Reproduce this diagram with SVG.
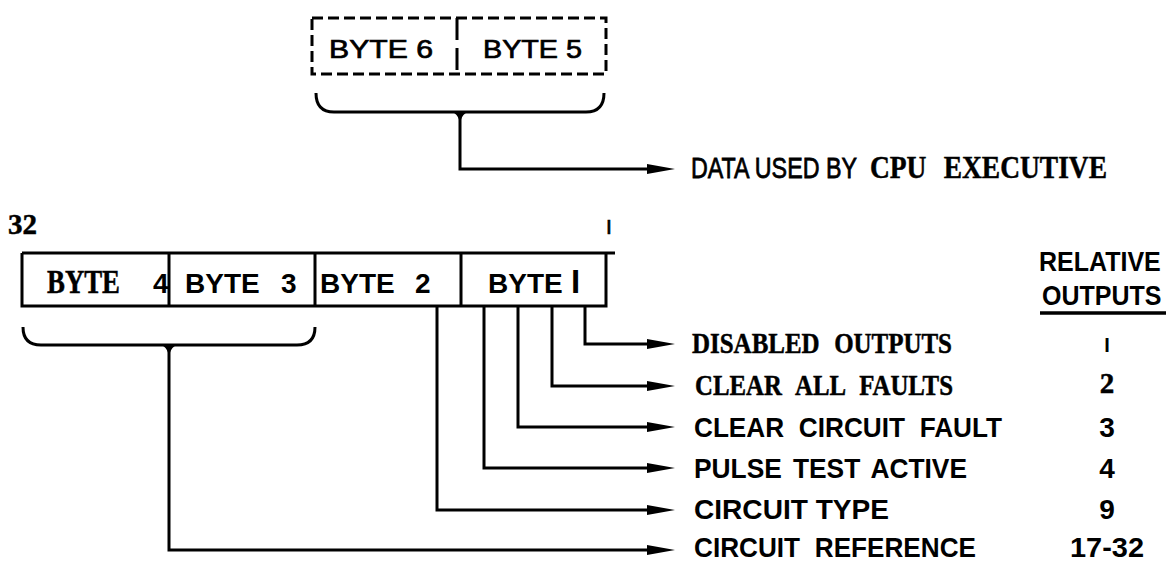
<svg xmlns="http://www.w3.org/2000/svg" width="1166" height="563" viewBox="0 0 1166 563">
<defs>
<marker id="ah" markerUnits="userSpaceOnUse" markerWidth="30" markerHeight="12" refX="15" refY="6" orient="auto">
<path d="M0,1 L28,6 L0,11 Z" fill="#000"/>
</marker>
<style>
.ln{fill:none;stroke:#000;stroke-width:3}
.dash{fill:none;stroke:#000;stroke-width:3;stroke-dasharray:11 5}
.fill{fill:#000;stroke:none}
.sb{font-family:"Liberation Sans",Arial,sans-serif;font-weight:bold;font-size:28px;fill:#000}
.sn{font-family:"Liberation Sans",Arial,sans-serif;font-weight:normal;font-size:28px;fill:#000;stroke:#000;stroke-width:0.7}
.rb{font-family:"Liberation Serif","Times New Roman",serif;font-weight:bold;font-size:30px;fill:#000;stroke:#000;stroke-width:0.5}
</style>
</defs>
<rect width="1166" height="563" fill="#fff"/>

<g id="bytes-6-5">
<path class="dash" d="M312,18 H606 V74 H312 Z"/>
<path class="dash" d="M457,18 V74" style="stroke-dasharray:22 8"/>
<text class="sn" x="329" y="58" style="font-size:25px" textLength="104" lengthAdjust="spacingAndGlyphs">BYTE 6</text>
<text class="sn" x="483" y="58" style="font-size:25px" textLength="99" lengthAdjust="spacingAndGlyphs">BYTE 5</text>
</g>

<g id="bytes-4-1">
<path class="ln" d="M22,253 H615 M22,253 V306 H606 V253 M169,253 V306 M315,253 V306 M461,253 V306"/>
<text y="293"><tspan class="rb" x="47" style="font-size:33px" textLength="73" lengthAdjust="spacingAndGlyphs">BYTE</tspan> <tspan class="sb" x="153">4</tspan></text>
<text class="sb" y="293"><tspan x="185">BYTE</tspan> <tspan x="281">3</tspan></text>
<text class="sb" y="293"><tspan x="320">BYTE</tspan> <tspan x="415">2</tspan></text>
<text class="sb" y="293"><tspan x="488">BYTE</tspan> <tspan x="571" style="font-size:33px">I</tspan></text>
</g>

<g id="bit-labels">
<text class="rb" x="8" y="234" style="font-size:29px">32</text>
<text class="sn" x="606" y="234" style="font-size:21px">I</text>
</g>

<g id="header">
<text class="sb" transform="translate(1039,271) scale(1,1.12)" style="font-size:25px">RELATIVE</text>
<text class="sb" transform="translate(1042,305) scale(1,1.12)" style="font-size:25px">OUTPUTS</text>
<path class="ln" d="M1040,313 H1166" style="stroke-width:3.5"/>
</g>

<g id="label-cpu">
<text class="sn" transform="translate(691,178) scale(1,1.25)" style="font-size:23px;stroke-width:0.6" textLength="166" lengthAdjust="spacingAndGlyphs">DATA USED BY</text>
<text class="rb" x="870" y="178" style="font-size:32px;word-spacing:12px" textLength="237" lengthAdjust="spacingAndGlyphs">CPU EXECUTIVE</text>
</g>

<g id="label-disabled"><text class="rb" x="692" y="353" style="word-spacing:10px" textLength="260" lengthAdjust="spacingAndGlyphs">DISABLED OUTPUTS</text></g>
<g id="label-clear-all"><text class="rb" x="695" y="395" style="word-spacing:10px" textLength="258" lengthAdjust="spacingAndGlyphs">CLEAR ALL FAULTS</text></g>
<g id="label-clear-circuit"><text class="sb" x="694" y="437" style="word-spacing:8px" textLength="308" lengthAdjust="spacingAndGlyphs">CLEAR CIRCUIT FAULT</text></g>
<g id="label-pulse"><text class="sb" x="694" y="478" style="word-spacing:4px" textLength="273" lengthAdjust="spacingAndGlyphs">PULSE TEST ACTIVE</text></g>
<g id="label-type"><text class="sb" x="694" y="519" textLength="195" lengthAdjust="spacingAndGlyphs">CIRCUIT TYPE</text></g>
<g id="label-reference"><text class="sb" x="694" y="557" style="word-spacing:8px" textLength="282" lengthAdjust="spacingAndGlyphs">CIRCUIT REFERENCE</text></g>

<g id="outputs" text-anchor="middle">
<text class="sb" x="1107" y="352" style="font-size:20px">I</text>
<text class="rb" x="1107" y="393" style="font-size:29px">2</text>
<text class="sb" x="1107" y="437">3</text>
<text class="sb" x="1107" y="478">4</text>
<text class="sb" x="1107" y="519">9</text>
<text class="sb" x="1107" y="557" textLength="74" lengthAdjust="spacingAndGlyphs">17-32</text>
</g>

<g id="connectors">
<path class="ln" d="M316,93 Q316,112 334,112 H586 Q604,112 604,93"/>
<path class="fill" d="M448,111 Q459,112 460,125 Q461,112 472,111 Z"/>
<path class="ln" d="M460,112 V169 H662" marker-end="url(#ah)"/>
<path class="ln" d="M23,327 Q23,345 41,345 H297 Q315,345 315,327"/>
<path class="fill" d="M157,344 Q168,345 169,358 Q170,345 181,344 Z"/>
<path class="ln" d="M169,345 V550 H662" marker-end="url(#ah)"/>
<path class="ln" d="M585,306 V344 H662" marker-end="url(#ah)"/>
<path class="ln" d="M552,306 V386 H662" marker-end="url(#ah)"/>
<path class="ln" d="M518,306 V427 H662" marker-end="url(#ah)"/>
<path class="ln" d="M484,306 V468 H662" marker-end="url(#ah)"/>
<path class="ln" d="M437,306 V510 H662" marker-end="url(#ah)"/>
</g>
</svg>
